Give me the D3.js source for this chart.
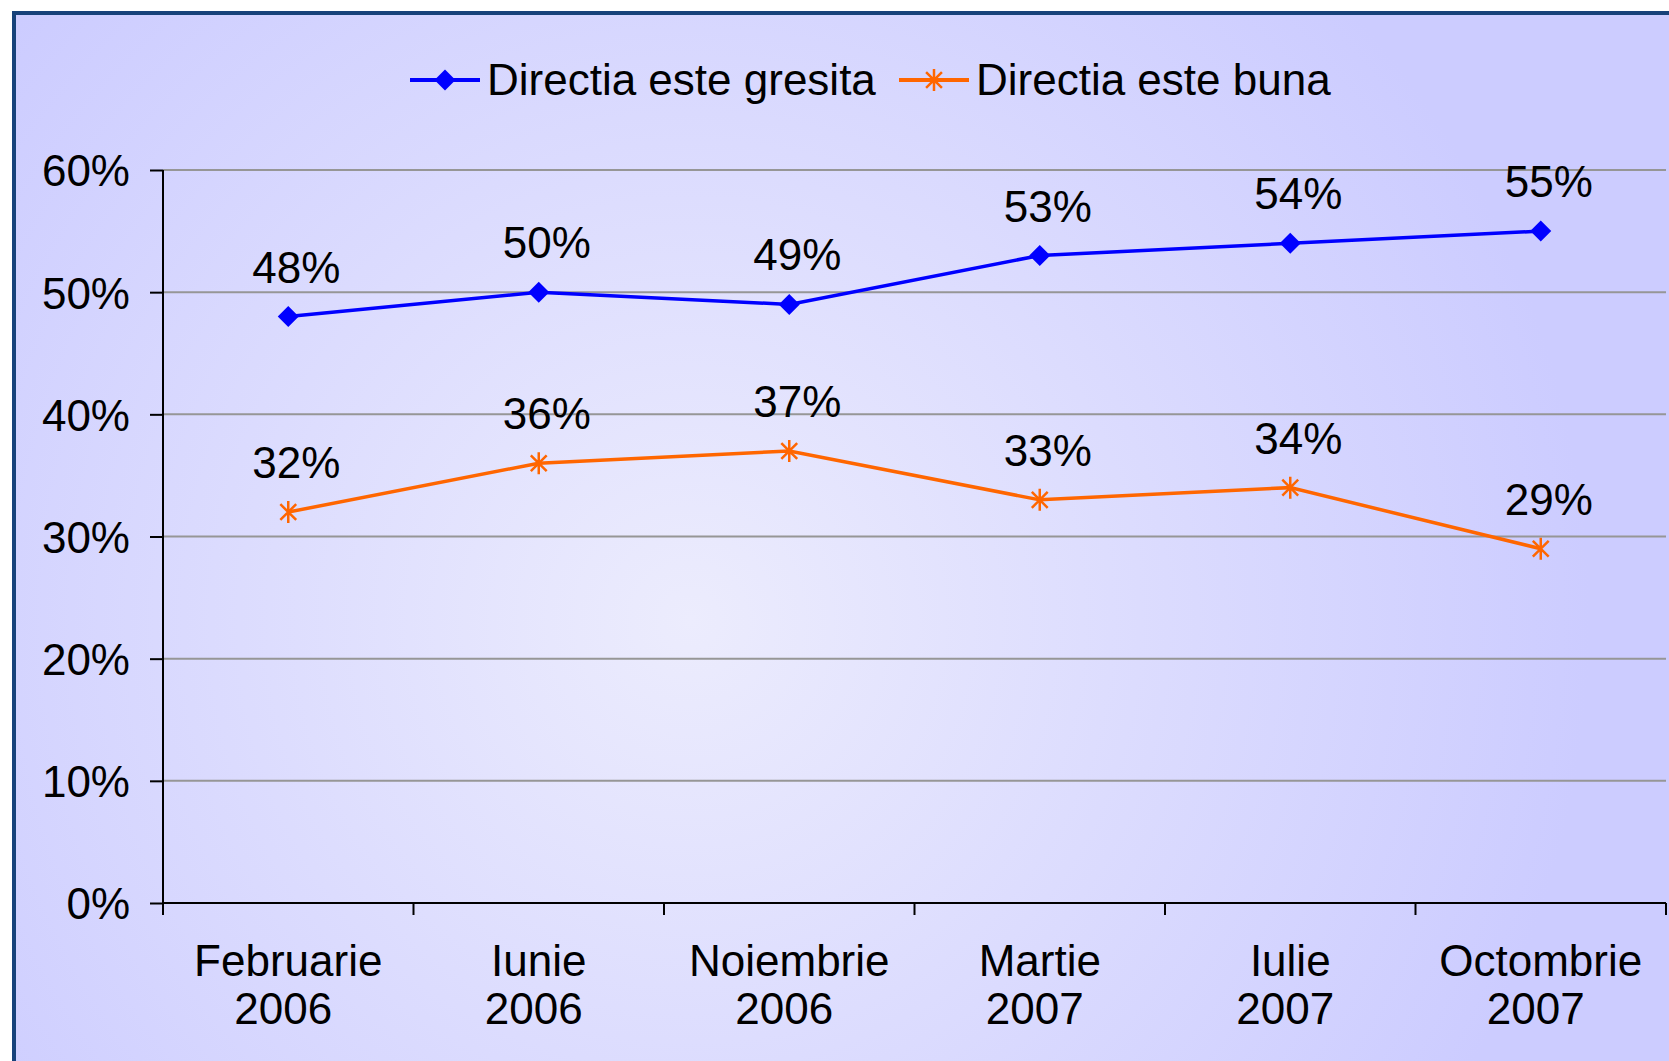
<!DOCTYPE html>
<html>
<head>
<meta charset="utf-8">
<script src="https://cdn.jsdelivr.net/npm/d3@7"></script>
<style>
  html, body { margin: 0; padding: 0; background: #ffffff; }
  svg { display: block; }
  text { font-family: "Liberation Sans", Arial, sans-serif; fill: #000; }
</style>
</head>
<body>
<svg id="chart" width="1669" height="1061"></svg>
<script>
"use strict";

// data
const months = ["Februarie", "Iunie", "Noiembrie", "Martie", "Iulie", "Octombrie"];
const years = ["2006", "2006", "2006", "2007", "2007", "2007"];
const gresita = [0.48, 0.50, 0.49, 0.53, 0.54, 0.55];
const buna = [0.32, 0.36, 0.37, 0.33, 0.34, 0.29];
const yTicks = [0, 0.1, 0.2, 0.3, 0.4, 0.5, 0.6];
const seriesNames = ["Directia este gresita", "Directia este buna"];

const width = 1669, height = 1061;
const plot = { left: 163, right: 1666, top: 170, bottom: 903 };

let svg = d3.select("#chart");

// background gradient
let defs = svg.append("defs");
let grad = defs.append("radialGradient")
    .attr("id", "bg")
    .attr("gradientUnits", "userSpaceOnUse")
    .attr("cx", 690).attr("cy", 620)
    .attr("r", 900);
grad.append("stop").attr("offset", "0%").attr("stop-color", "#ececfd");
grad.append("stop").attr("offset", "100%").attr("stop-color", "#ccccff");

svg.append("rect")
    .attr("x", 14).attr("y", 13)
    .attr("width", width + 20).attr("height", height + 20)
    .style("fill", "url(#bg)")
    .style("stroke", "#17427a")
    .style("stroke-width", 4);

let x = d3.scaleBand()
    .domain(months)
    .range([plot.left, plot.right]);

let y = d3.scaleLinear()
    .domain([0, 0.6])
    .range([plot.bottom, plot.top]);

// gridlines
svg.append("g")
    .selectAll("line")
    .data(yTicks.filter(d => d > 0))
    .enter().append("line")
    .attr("x1", plot.left).attr("x2", plot.right)
    .attr("y1", d => y(d)).attr("y2", d => y(d))
    .style("stroke", "#969696")
    .style("stroke-width", 2);

// y axis
let yAxis = svg.append("g")
    .attr("transform", `translate(${plot.left},0)`)
    .call(d3.axisLeft(y).tickValues(yTicks).tickFormat(d3.format(".0%")).tickSize(13).tickPadding(20));
yAxis.select(".domain").remove();
yAxis.selectAll(".tick line").style("stroke", "#000").style("stroke-width", 2);
yAxis.selectAll(".tick text")
    .style("font-size", "44px")
    .attr("dy", "0.36em");
yAxis.append("line")
    .attr("x1", 0).attr("x2", 0)
    .attr("y1", plot.top).attr("y2", plot.bottom + 12)
    .style("stroke", "#000").style("stroke-width", 2);

// x axis
let xAxis = svg.append("g")
    .attr("transform", `translate(0,${plot.bottom})`);
xAxis.append("line")
    .attr("x1", plot.left).attr("x2", plot.right)
    .style("stroke", "#000").style("stroke-width", 2);
xAxis.selectAll(".xtick")
    .data(months.map(m => x(m)).concat([plot.right]))
    .enter().append("line")
    .attr("class", "xtick")
    .attr("x1", d => d).attr("x2", d => d)
    .attr("y1", 0).attr("y2", 12)
    .style("stroke", "#000").style("stroke-width", 2);

let catLabels = xAxis.selectAll(".cat")
    .data(months)
    .enter().append("text")
    .attr("class", "cat")
    .attr("text-anchor", "middle")
    .style("font-size", "44px");
catLabels.append("tspan")
    .attr("x", d => x(d) + x.bandwidth() / 2)
    .attr("y", 73)
    .text(d => d);
catLabels.append("tspan")
    .attr("x", (d, i) => x(d) + x.bandwidth() / 2 - 5)
    .attr("y", 121)
    .text((d, i) => years[i]);

let cx = (d, i) => x(months[i]) + x.bandwidth() / 2;

let line = d3.line()
    .x(cx)
    .y(d => y(d));

function starPath(r) {
    let a = r * 0.72;
    return `M0,${-r}V${r}M${-a},${-a}L${a},${a}M${-a},${a}L${a},${-a}`;
}
function diamondPath(r) {
    return `M0,${-r}L${r},0L0,${r}L${-r},0Z`;
}

// blue series
svg.append("path")
    .datum(gresita)
    .attr("d", line)
    .style("fill", "none")
    .style("stroke", "#0000ff")
    .style("stroke-width", 3.5);
svg.append("g").selectAll("path")
    .data(gresita)
    .enter().append("path")
    .attr("transform", (d, i) => `translate(${cx(d, i)},${y(d)})`)
    .attr("d", diamondPath(10.5))
    .style("fill", "#0000ff");

// orange series
svg.append("path")
    .datum(buna)
    .attr("d", line)
    .style("fill", "none")
    .style("stroke", "#ff6600")
    .style("stroke-width", 3.5);
svg.append("g").selectAll("path")
    .data(buna)
    .enter().append("path")
    .attr("transform", (d, i) => `translate(${cx(d, i)},${y(d)})`)
    .attr("d", starPath(11))
    .style("fill", "none")
    .style("stroke", "#ff6600")
    .style("stroke-width", 2.5);

// data labels
[gresita, buna].forEach(function(series) {
    svg.append("g").selectAll("text")
        .data(series)
        .enter().append("text")
        .attr("x", (d, i) => cx(d, i) + 8)
        .attr("y", d => y(d) - 34)
        .attr("text-anchor", "middle")
        .style("font-size", "44px")
        .text(d3.format(".0%"));
});

// legend
let legend = svg.append("g").attr("transform", "translate(0,80)");
let legendItems = [
    { x: 410, color: "#0000ff", mark: diamondPath(10.5), fill: "#0000ff", stroke: "none" },
    { x: 899, color: "#ff6600", mark: starPath(11), fill: "none", stroke: "#ff6600" }
];
legendItems.forEach(function(item, i) {
    let g = legend.append("g").attr("transform", `translate(${item.x},0)`);
    g.append("line")
        .attr("x1", 0).attr("x2", 70)
        .style("stroke", item.color)
        .style("stroke-width", 4);
    g.append("path")
        .attr("transform", "translate(35,0)")
        .attr("d", item.mark)
        .style("fill", item.fill)
        .style("stroke", item.stroke)
        .style("stroke-width", 2.5);
    g.append("text")
        .attr("x", 77)
        .attr("y", 15)
        .style("font-size", "44px")
        .text(seriesNames[i]);
});
</script>
</body>
</html>
